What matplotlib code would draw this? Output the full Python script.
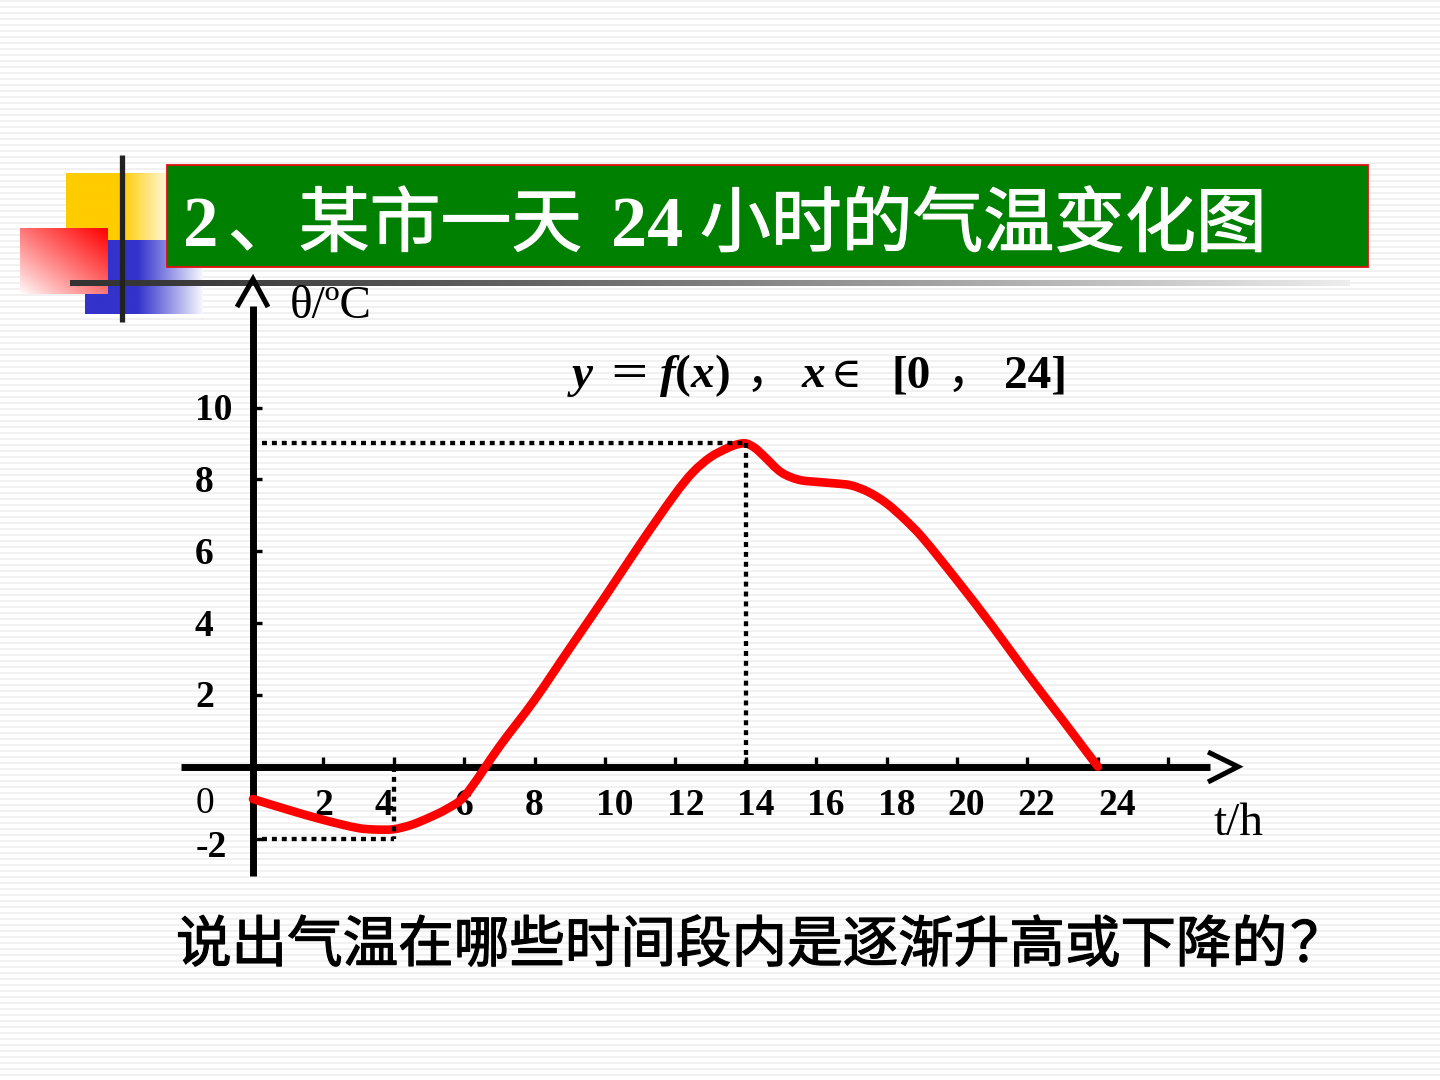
import numpy as np
import matplotlib
matplotlib.use("Agg")
import matplotlib.pyplot as plt
import matplotlib.patheffects as pe
from matplotlib.patches import Rectangle, PathPatch
from matplotlib.path import Path

plt.rcParams["mathtext.fontset"] = "custom"
plt.rcParams["mathtext.it"] = "Liberation Serif:italic:bold"
plt.rcParams["mathtext.rm"] = "Liberation Serif:bold"
plt.rcParams["mathtext.bf"] = "Liberation Serif:bold"

# ---------------- data ----------------
hours = [0, 1, 2, 3, 3.5, 4, 4.5, 5, 5.5, 6, 7, 8, 9, 10, 11, 12, 12.5, 13,
         13.5, 13.75, 14, 14.25, 14.5, 15, 15.5, 16, 16.5, 17, 17.5, 18, 18.5,
         19, 20, 21, 22, 23, 24]
temps = [-0.9, -1.2, -1.48, -1.71, -1.75, -1.74, -1.62, -1.42, -1.18, -0.83,
         0.56, 1.86, 3.3, 4.73, 6.2, 7.6, 8.2, 8.62,
         8.88, 8.97, 9.0, 8.88, 8.66, 8.2, 7.99, 7.93, 7.89, 7.83, 7.64, 7.33, 6.9,
         6.4, 5.19, 3.92, 2.58, 1.3, 0.0]
x_ticks = [2, 4, 6, 8, 10, 12, 14, 16, 18, 20, 22, 24, 26]
x_tick_labels = ["2", "4", "6", "8", "10", "12", "14", "16", "18", "20", "22", "24"]
y_ticks = [-2, 2, 4, 6, 8, 10]
y_tick_labels = ["2", "4", "6", "8", "10"]
peak = (14, 9)
trough = (4, -2)

title_parts = ["2", "、某市一天", "24", "小时的气温变化图"]
question = "说出气温在哪些时间段内是逐渐升高或下降的"
question_mark = "？"

# ---------------- layout ----------------
W, H = 1440, 1080
X0, PXH = 253.0, 35.2      # pixel of x=0, pixels per hour
Y0, PXV = 766.7, 35.92     # pixel of y=0, pixels per degree

def hx(px):
    return (px - X0) / PXH

def vy(py):
    return (Y0 - py) / PXV

fig = plt.figure(figsize=(W / 100, H / 100), dpi=100)

# background / decoration axes in pixel coordinates
bg = fig.add_axes([0, 0, 1, 1], zorder=0)
bg.set_xlim(0, W)
bg.set_ylim(H, 0)
bg.axis("off")

stripes = np.ones((H, 1))
stripes[(np.arange(H) % 6) < 2] = 0.945
bg.imshow(stripes, extent=(0, W, H, 0), cmap="gray", vmin=0, vmax=1,
          aspect="auto", interpolation="nearest", zorder=0)

def hgrad(c_left, c_right, n=256, solid=0.5, power=1.0):
    t = np.linspace(0, 1, n)
    s = np.clip((t - solid) / (1 - solid), 0, 1) ** power
    c_left = np.array(c_left)
    c_right = np.array(c_right)
    img = c_left[None, :] * (1 - s[:, None]) + c_right[None, :] * s[:, None]
    return img[None, :, :]

yellow = (1.0, 0.80, 0.0)
blue = (0.20, 0.20, 0.80)
bg.imshow(hgrad(yellow, (1.0, 0.97, 0.85), solid=0.55), extent=(66, 167, 240, 173),
          aspect="auto", zorder=1)
bg.imshow(hgrad(blue, (0.97, 0.97, 1.0), solid=0.45), extent=(85, 203, 314, 240),
          aspect="auto", zorder=1)
# red square: diagonal gradient white (bottom-left) -> red (top-right)
u = np.linspace(0, 1, 120)[None, :]
v = np.linspace(0, 1, 90)[:, None]
t = np.clip((u + (1 - v)) / 2, 0, 1) ** 0.9
red_img = np.dstack([np.ones_like(t), 1 - t, 1 - t])
bg.imshow(red_img, extent=(20, 108, 294, 228), aspect="auto", zorder=2)

# gray gradient rule under the title
rule = hgrad((0.2, 0.2, 0.2), (0.93, 0.93, 0.93), solid=0.0, power=1.3)
bg.imshow(rule, extent=(70, 1350, 286, 280), aspect="auto", zorder=3)
# vertical dark bar
bg.plot([122, 122], [155, 322], color="#222222", lw=3.8, solid_capstyle="butt", zorder=4)

# title box
bg.add_patch(Rectangle((167, 165), 1201, 102, facecolor="#008000",
                       edgecolor="#e01010", lw=1.3, zorder=5))
TB = 246
serif_title = dict(family="Liberation Serif", fontweight="bold", color="white",
                   va="baseline", ha="left", zorder=6)
cjk_title = dict(family=["Noto Sans CJK SC"], fontsize=51, color="white",
                 va="baseline", ha="left", zorder=6,
                 path_effects=[pe.withStroke(linewidth=0.9, foreground="white")])
bg.text(183, TB, title_parts[0], fontsize=51, **serif_title)
bg.text(228, TB, title_parts[1], **cjk_title)
bg.text(611, TB, title_parts[2], fontsize=52, **serif_title)
bg.text(700, TB, title_parts[3], **cjk_title)

# question
qkw = dict(color="black", fontsize=40, family=["Noto Sans CJK SC"], va="center", zorder=6,
           path_effects=[pe.withStroke(linewidth=0.9, foreground="black")])
bg.text(176, 946, question, ha="left", **qkw)
bg.text(1318, 946, question_mark, ha="center", **qkw)

# axis titles
bg.text(290, 318, "θ/ºC", fontsize=34, family="Liberation Serif", va="baseline", ha="left", zorder=6)
bg.text(1214, 835, "t/h", fontsize=34, family="Liberation Serif", va="baseline", ha="left", zorder=6)

# formula y = f(x) , x ∈ [0 , 24]
FB = 387
FS = 34
bi = dict(family="Liberation Serif", fontweight="bold", fontstyle="italic", fontsize=FS)
bd = dict(family="Liberation Serif", fontweight="bold", fontsize=FS)
cj = dict(family=["Noto Sans CJK SC"], fontsize=30)
def put(x, s, ha="center", **kw):
    bg.text(x, FB, s, va="baseline", ha=ha, zorder=6, **kw)
put(582, "y", **bi)
put(629, "＝", **cj)
put(694, r"$f(x)$", fontsize=FS)
put(746, "，", ha="left", family=["Noto Sans CJK SC"], fontsize=FS)
put(813, "x", **bi)
put(846, "∈", family=["Liberation Serif", "DejaVu Serif"], fontsize=30)
put(911, "[0", **bd)
put(947, "，", ha="left", family=["Noto Sans CJK SC"], fontsize=FS)
put(1035, "24]", **bd)

# ---------------- chart axes in data coordinates ----------------
ax = fig.add_axes([0, 0, 1, 1], zorder=1)
ax.set_facecolor("none")
ax.set_xlim(hx(0), hx(W))
ax.set_ylim(vy(H), vy(0))
ax.axis("off")

AX_LW = 5.0
# x axis and arrow
ax.plot([hx(181), hx(1210)], [0, 0], color="black", lw=AX_LW, solid_capstyle="butt", zorder=3)
ax.plot([hx(1208), hx(1238), hx(1208)], [vy(752), 0, vy(782)], color="black", lw=3.6,
        solid_joinstyle="miter", solid_capstyle="butt", zorder=3)
# y axis and arrow
ax.plot([0, 0], [vy(876), vy(306)], color="black", lw=AX_LW, solid_capstyle="butt", zorder=3)
ax.plot([hx(237), 0, hx(268)], [vy(307), vy(279), vy(307)], color="black", lw=3.6,
        solid_joinstyle="miter", solid_capstyle="butt", zorder=3)

# ticks
tick_len_x = 10 / PXV
for xt in x_ticks:
    ax.plot([xt, xt], [0, tick_len_x], color="black", lw=2.4, solid_capstyle="butt", zorder=3)
tick_len_y = 9 / PXH
for yt in y_ticks:
    ax.plot([0, tick_len_y], [yt, yt], color="black", lw=2.4, solid_capstyle="butt", zorder=3)

# tick labels
lab = dict(family="Liberation Serif", fontweight="bold", fontsize=27, zorder=2)
x_nudge_px = [0, -10, 0, 0, 10, 10, 10, 10, 10, 9, 9, 19]
for xv, s, dn in zip(x_ticks, x_tick_labels, x_nudge_px):
    ax.text(xv + dn / PXH, vy(815), s, ha="center", va="baseline", **lab)
for yv, s in zip(y_ticks[1:], y_tick_labels):
    ax.text(hx(195), yv - 12.5 / PXV, s, ha="left", va="baseline", **lab)
ax.text(hx(205), vy(813), "0", ha="center", va="baseline", family="Liberation Serif",
        fontsize=27, zorder=2)
ax.text(hx(211), vy(857), "-2", ha="center", va="baseline", **lab)

# temperature curve: smooth cubic (Hermite/Bezier) path through the read points
xs = np.asarray(hours, float)
ys = np.asarray(temps, float)
n = len(xs)
m = np.empty(n)
m[0] = (ys[1] - ys[0]) / (xs[1] - xs[0])
m[-1] = (ys[-1] - ys[-2]) / (xs[-1] - xs[-2])
m[1:-1] = (ys[2:] - ys[:-2]) / (xs[2:] - xs[:-2])
verts = [(xs[0], ys[0])]
codes = [Path.MOVETO]
for i in range(n - 1):
    d = xs[i + 1] - xs[i]
    verts += [(xs[i] + d / 3, ys[i] + m[i] * d / 3),
              (xs[i + 1] - d / 3, ys[i + 1] - m[i + 1] * d / 3),
              (xs[i + 1], ys[i + 1])]
    codes += [Path.CURVE4] * 3
ax.add_patch(PathPatch(Path(verts, codes), facecolor="none", edgecolor="#ff0000",
                       lw=6.2, capstyle="round", joinstyle="round", zorder=4))

# dotted guide lines
dot = dict(color="black", lw=3.1, linestyle=(0, (1.15, 1.15)), dash_capstyle="butt", zorder=5)
ax.plot([hx(262), peak[0]], [peak[1], peak[1]], **dot)
ax.plot([peak[0], peak[0]], [peak[1], 0], **dot)
ax.plot([hx(262), trough[0]], [trough[1], trough[1]], **dot)
ax.plot([trough[0], trough[0]], [0, trough[1]], **dot)

fig.savefig("out.png", dpi=100)
